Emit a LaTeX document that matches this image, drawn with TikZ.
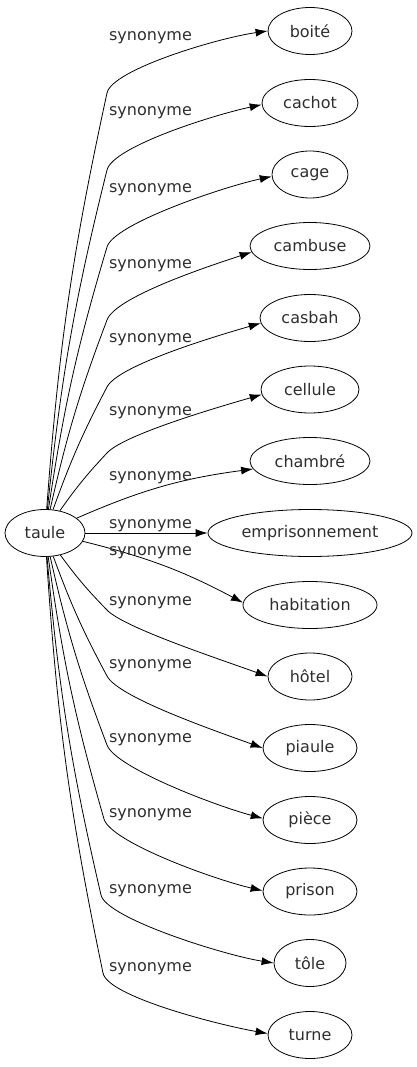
\documentclass[tikz,border=0pt]{standalone}
\usepackage{fontspec}
\setmainfont{DejaVu Sans}
\usepackage{tikz}
\usetikzlibrary{arrows.meta,shapes.geometric}

\begin{document}
\begin{tikzpicture}[x=1pt,y=1pt,
              mot/.style={ellipse,draw,line width=0.8pt,minimum height=47pt,inner sep=0pt,text=black!82,font=\fontsize{16}{19}\selectfont},
              syn/.style={-{Latex[length=12pt,width=8pt]},line width=0.8pt},
              kink/.style={out distance=24pt,in distance=50pt},
              lbl/.style={inner sep=0pt,text=black!82,font=\fontsize{16}{19}\selectfont}]
              \useasboundingbox (0,0) rectangle (416,-1067);
              % mots
              \node[mot,minimum width=80pt](taule)at(45,-533){taule};
              \node[mot,minimum width=84pt](boite)at(310,-31){boité};
              \node[mot,minimum width=96pt](cachot)at(310,-103){cachot};
              \node[mot,minimum width=76pt](cage)at(310,-174.5){cage};
              \node[mot,minimum width=120pt](cambuse)at(310,-246){cambuse};
              \node[mot,minimum width=100pt](casbah)at(310,-318){casbah};
              \node[mot,minimum width=98pt](cellule)at(310,-389.5){cellule};
              \node[mot,minimum width=120pt](chambre)at(310,-461){chambré};
              \node[mot,minimum width=204pt](empri)at(310,-533){emprisonnement};
              \node[mot,minimum width=134pt](habitation)at(310,-605){habitation};
              \node[mot,minimum width=84pt](hotel)at(310,-676.5){hôtel};
              \node[mot,minimum width=94pt](piaule)at(310,-748){piaule};
              \node[mot,minimum width=94pt](piece)at(310,-820){pièce};
              \node[mot,minimum width=94pt](prison)at(310,-891.5){prison};
              \node[mot,minimum width=72pt](tole)at(310,-963){tôle};
              \node[mot,minimum width=84pt](turne)at(310,-1035){turne};
              % liens
              \draw[syn](taule) to[bend left=4](107,-93) to[kink,out=78,in=188](boite.180);
              \draw[syn](taule) to[bend left=4](107,-170) to[kink,out=76,in=192](cachot.182);
              \draw[syn](taule) to[bend left=4](107,-247) to[kink,out=74,in=192](cage.183);
              \draw[syn](taule) to[bend left=4](107,-320) to[kink,out=70,in=198](cambuse.186);
              \draw[syn](taule) to[bend left=4](107,-387) to[kink,out=63,in=196](casbah.186);
              \draw[syn](taule) to[bend left=4](107,-453) to[kink,out=48,in=196](cellule.186);
              \draw[syn](taule) to[bend left=8](chambre.188);
              \draw[syn](taule)--(empri);
              \draw[syn](taule) to[bend left=7](habitation.178);
              \draw[syn](taule) to[bend right=4](107,-610) to[kink,out=-47,in=160](hotel.180);
              \draw[syn](taule) to[bend right=4](107,-676) to[kink,out=-63,in=160](piaule.180);
              \draw[syn](taule) to[bend right=4](107,-745) to[kink,out=-70,in=165](piece.178);
              \draw[syn](taule) to[bend right=4](104,-819) to[kink,out=-74,in=167](prison.179);
              \draw[syn](taule) to[bend right=4](101,-895) to[kink,out=-77,in=171](tole.180);
              \draw[syn](taule) to[bend right=4](103,-973) to[kink,out=-79,in=170](turne.178);
              % etiquettes
              \node[lbl](s1)at(150.5,-38){synonyme};
              \node[lbl](s2)at(150.5,-113){synonyme};
              \node[lbl](s3)at(150.5,-190){synonyme};
              \node[lbl](s4)at(150.5,-266){synonyme};
              \node[lbl](s5)at(150.5,-340){synonyme};
              \node[lbl](s6)at(150.5,-413){synonyme};
              \node[lbl](s7)at(150.5,-478){synonyme};
              \node[lbl](s8)at(150.5,-526){synonyme};
              \node[lbl](s9)at(150.5,-553){synonyme};
              \node[lbl](s10)at(150.5,-603){synonyme};
              \node[lbl](s11)at(150.5,-666){synonyme};
              \node[lbl](s12)at(150.5,-740){synonyme};
              \node[lbl](s13)at(150.5,-815){synonyme};
              \node[lbl](s14)at(150.5,-891){synonyme};
              \node[lbl](s15)at(150.5,-969){synonyme};
            \end{tikzpicture}
\end{document}
